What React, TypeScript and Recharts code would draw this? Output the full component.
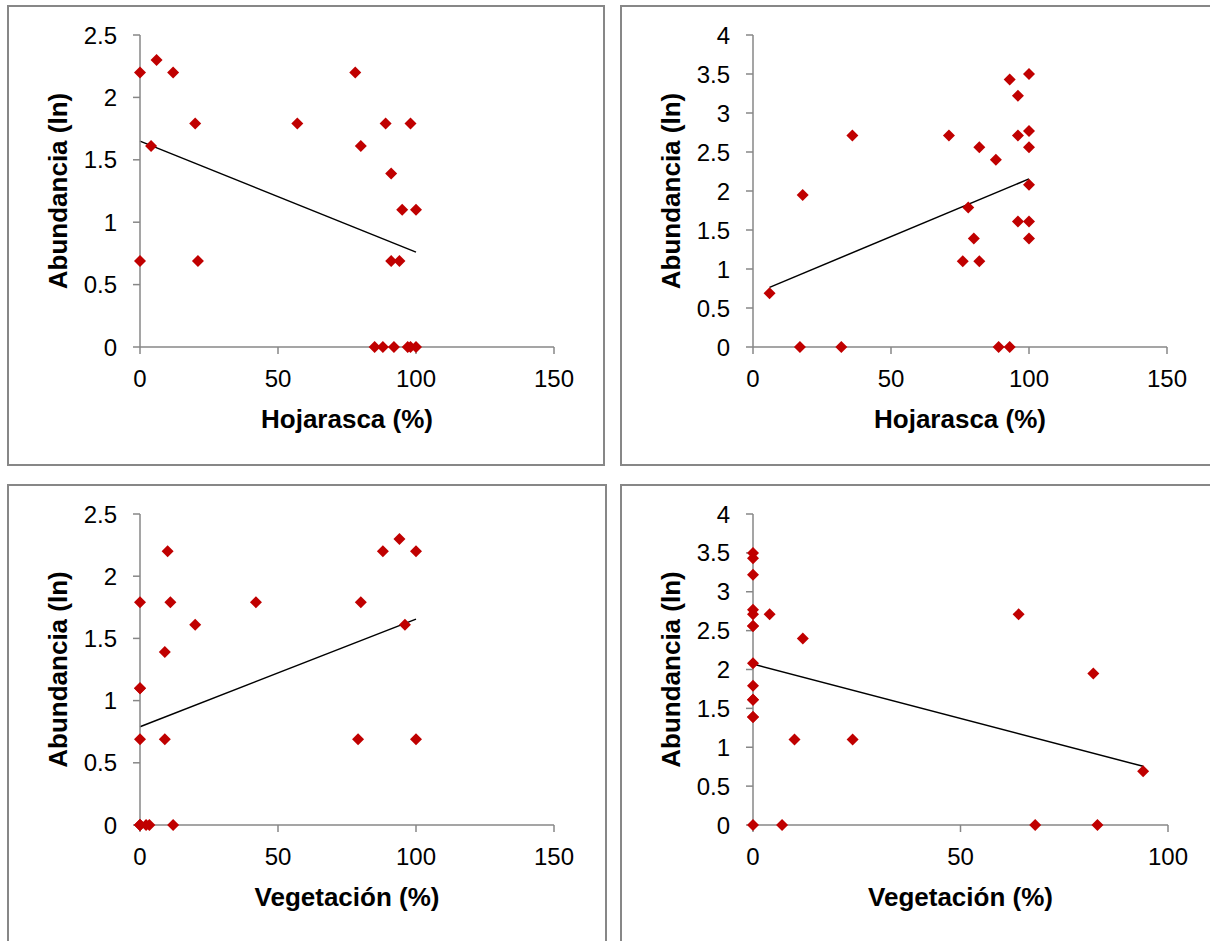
import { ScatterChart, Scatter, XAxis, YAxis, ReferenceLine, Label } from "recharts";

const RED = "#c00000";
const AXIS = "#878787";
const FONT = '"Liberation Sans", Arial, sans-serif';

// Top-left: Hojarasca vs abundance (group A)
const hojarascaA = [0, 6, 12, 20, 4, 0, 21, 57, 78, 89, 98, 80, 91, 95, 100, 91, 94, 85, 88, 92, 97, 98, 100];
const abundanciaA = [2.2, 2.3, 2.2, 1.79, 1.61, 0.69, 0.69, 1.79, 2.2, 1.79, 1.79, 1.61, 1.39, 1.1, 1.1, 0.69, 0.69, 0, 0, 0, 0, 0, 0];
const trendA = [{ x: 0, y: 1.65 }, { x: 100, y: 0.76 }];

// Top-right: Hojarasca vs abundance (group B)
const hojarascaB = [6, 17, 32, 18, 36, 71, 82, 88, 78, 80, 76, 82, 89, 93, 93, 96, 96, 96, 100, 100, 100, 100, 100, 100];
const abundanciaB = [0.69, 0, 0, 1.95, 2.71, 2.71, 2.56, 2.4, 1.79, 1.39, 1.1, 1.1, 0, 0, 3.43, 3.22, 2.71, 1.61, 3.5, 2.77, 2.56, 2.08, 1.61, 1.39];
const trendB = [{ x: 6, y: 0.765 }, { x: 100, y: 2.155 }];

// Bottom-left: Vegetación vs abundance (group A)
const vegetacionA = [0, 0, 0, 0, 0, 0, 0, 2.2, 3.4, 12, 10, 11, 9, 9, 20, 42, 80, 79, 88, 94, 100, 96, 100];
const abundanciaA2 = [1.79, 1.1, 1.1, 0.69, 0, 0, 0, 0, 0, 0, 2.2, 1.79, 1.39, 0.69, 1.61, 1.79, 1.79, 0.69, 2.2, 2.3, 2.2, 1.61, 0.69];
const trendC = [{ x: 0, y: 0.79 }, { x: 100, y: 1.655 }];

// Bottom-right: Vegetación vs abundance (group B)
const vegetacionB = [0, 0, 0, 0, 0, 0, 0, 0, 0, 0, 0, 0, 0, 0, 4, 12, 10, 24, 7, 64, 82, 94, 68, 83];
const abundanciaB2 = [3.5, 3.43, 3.22, 2.77, 2.71, 2.56, 2.56, 2.08, 1.79, 1.61, 1.61, 1.39, 1.39, 0, 2.71, 2.4, 1.1, 1.1, 0, 2.71, 1.95, 0.69, 0, 0];
const trendD = [{ x: 0, y: 2.07 }, { x: 94, y: 0.755 }];

const ticks150 = [0, 50, 100, 150];
const ticks100 = [0, 50, 100];
const ticks25 = [0, 0.5, 1, 1.5, 2, 2.5];
const ticks4 = [0, 0.5, 1, 1.5, 2, 2.5, 3, 3.5, 4];

const zip = (xs: number[], ys: number[]) => xs.map((x, i) => ({ x, y: ys[i] }));

const Diamond = (props: any) => {
  const { cx, cy } = props;
  if (cx == null || cy == null) return null;
  const r = 6;
  return <path d={`M${cx},${cy - r}L${cx + r},${cy}L${cx},${cy + r}L${cx - r},${cy}Z`} fill={RED} />;
};

const tickStyle = { fill: "#000", fontSize: 24, fontFamily: FONT };
const lineStyle = { stroke: AXIS, strokeWidth: 1.5 };

type PanelProps = {
  left: number;
  top: number;
  margin: { top: number; right: number; bottom: number; left: number };
  points: { x: number; y: number }[];
  trend: { x: number; y: number }[];
  xTicks: number[];
  yTicks: number[];
  xTitle: string;
};

function Panel({ left, top, margin, points, trend, xTicks, yTicks, xTitle }: PanelProps) {
  return (
    <div style={{ position: "absolute", left, top }}>
      <ScatterChart width={605} height={466} margin={margin}>
        <XAxis
          type="number"
          dataKey="x"
          domain={[xTicks[0], xTicks[xTicks.length - 1]]}
          ticks={xTicks}
          interval={0}
          height={30}
          tick={tickStyle}
          tickSize={7}
          tickMargin={16}
          axisLine={lineStyle}
          tickLine={lineStyle}
        >
          <Label
            content={(p: any) => {
              const vb = p.viewBox;
              return (
                <text x={vb.x + vb.width / 2} y={vb.y + 81} textAnchor="middle" fontSize={26} fontWeight="bold" fontFamily={FONT} fill="#000">
                  {xTitle}
                </text>
              );
            }}
          />
        </XAxis>
        <YAxis
          type="number"
          dataKey="y"
          domain={[yTicks[0], yTicks[yTicks.length - 1]]}
          ticks={yTicks}
          interval={0}
          width={60}
          tick={tickStyle}
          tickSize={7}
          tickMargin={16}
          axisLine={lineStyle}
          tickLine={lineStyle}
        >
          <Label
            content={(p: any) => {
              const vb = p.viewBox;
              const x = vb.x + vb.width - 73;
              const y = vb.y + vb.height / 2;
              return (
                <text x={x} y={y} transform={`rotate(-90, ${x}, ${y})`} textAnchor="middle" fontSize={26} fontWeight="bold" fontFamily={FONT} fill="#000">
                  Abundancia (ln)
                </text>
              );
            }}
          />
        </YAxis>
        <ReferenceLine segment={trend} stroke="#000" strokeWidth={1.5} ifOverflow="visible" />
        <Scatter data={points} shape={Diamond} isAnimationActive={false} />
      </ScatterChart>
    </div>
  );
}

const boxStyle = (left: number, top: number, width: number, height: number) => ({
  position: "absolute" as const,
  left,
  top,
  width,
  height,
  border: `2px solid ${AXIS}`,
  boxSizing: "border-box" as const,
});

export default function App() {
  return (
    <div style={{ position: "absolute", left: 0, top: 0, width: 1210, height: 941, overflow: "hidden", background: "#fff", fontFamily: FONT }}>
      <div style={boxStyle(7, 5, 598, 461)} />
      <div style={boxStyle(620, 5, 610, 461)} />
      <div style={boxStyle(7, 484, 600, 480)} />
      <div style={boxStyle(620, 484, 610, 480)} />

      <Panel
        left={0}
        top={0}
        margin={{ top: 35, right: 51, bottom: 89, left: 80 }}
        points={zip(hojarascaA, abundanciaA)}
        trend={trendA}
        xTicks={ticks150}
        yTicks={ticks25}
        xTitle="Hojarasca (%)"
      />
      <Panel
        left={605}
        top={0}
        margin={{ top: 35, right: 43, bottom: 89, left: 88 }}
        points={zip(hojarascaB, abundanciaB)}
        trend={trendB}
        xTicks={ticks150}
        yTicks={ticks4}
        xTitle="Hojarasca (%)"
      />
      <Panel
        left={0}
        top={475}
        margin={{ top: 39, right: 51, bottom: 86, left: 80 }}
        points={zip(vegetacionA, abundanciaA2)}
        trend={trendC}
        xTicks={ticks150}
        yTicks={ticks25}
        xTitle="Vegetación (%)"
      />
      <Panel
        left={605}
        top={475}
        margin={{ top: 39, right: 42, bottom: 86, left: 88 }}
        points={zip(vegetacionB, abundanciaB2)}
        trend={trendD}
        xTicks={ticks100}
        yTicks={ticks4}
        xTitle="Vegetación (%)"
      />
    </div>
  );
}
